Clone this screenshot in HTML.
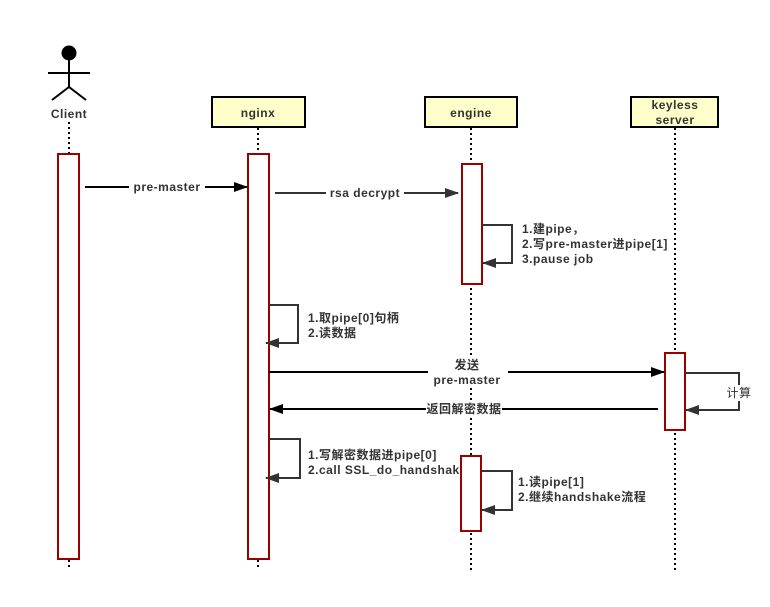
<!DOCTYPE html>
<html><head><meta charset="utf-8"><style>
body{margin:0;background:#fff}
svg text{font-family:"Liberation Sans","Noto Sans CJK SC",sans-serif;font-weight:bold;font-size:12px;fill:#333;letter-spacing:0.5px}
</style></head><body>
<svg width="770" height="602" viewBox="0 0 770 602" xmlns="http://www.w3.org/2000/svg">
<defs>
<marker id="a" markerWidth="14" markerHeight="10" refX="13" refY="5" orient="auto" markerUnits="userSpaceOnUse"><path d="M0,0 L14,5 L0,10 Z" fill="#000"/></marker>
<marker id="g" markerWidth="14" markerHeight="10" refX="13" refY="5" orient="auto" markerUnits="userSpaceOnUse"><path d="M0,0 L14,5 L0,10 Z" fill="#333"/></marker>
</defs>
<g stroke="#000" stroke-width="2" stroke-dasharray="2,3">
<line x1="69" y1="122" x2="69" y2="153"/><line x1="69" y1="560" x2="69" y2="570"/>
<line x1="258" y1="128" x2="258" y2="153"/><line x1="258" y1="560" x2="258" y2="570"/>
<line x1="471" y1="128" x2="471" y2="570"/>
<line x1="675" y1="128" x2="675" y2="570"/>
</g>
<circle cx="69" cy="53" r="7.5" fill="#000"/>
<g stroke="#000" stroke-width="2" fill="none">
<line x1="48" y1="73" x2="90" y2="73"/><line x1="69" y1="60" x2="69" y2="87"/>
<polyline points="52,100 69,87 86,100"/>
</g>
<text x="69" y="118" text-anchor="middle" font-size="13">Client</text>
<g fill="#ffffcc" stroke="#000" stroke-width="2">
<rect x="212" y="97" width="93" height="30"/>
<rect x="425" y="97" width="92" height="30"/>
<rect x="631" y="97" width="87" height="30"/>
</g>
<text x="258" y="117" text-anchor="middle" font-size="13">nginx</text>
<text x="471" y="117" text-anchor="middle" font-size="13">engine</text>
<text x="675" y="109" text-anchor="middle" font-size="13">keyless</text>
<text x="675" y="124" text-anchor="middle" font-size="13">server</text>
<g fill="#fff" stroke="#990000" stroke-width="2">
<rect x="58" y="154" width="21" height="405"/>
<rect x="248" y="154" width="21" height="405"/>
<rect x="462" y="164" width="20" height="120"/>
<rect x="665" y="353" width="20" height="77"/>
</g>
<line x1="85" y1="187" x2="247" y2="187" stroke="#000" stroke-width="2" marker-end="url(#a)"/>
<rect x="129" y="180" width="76" height="14" fill="#fff"/>
<text x="167" y="191" text-anchor="middle">pre-master</text>
<line x1="275" y1="193" x2="458" y2="193" stroke="#333" stroke-width="2" marker-end="url(#g)"/>
<rect x="326" y="186" width="78" height="14" fill="#fff"/>
<text x="365" y="197" text-anchor="middle">rsa decrypt</text>
<g fill="none" stroke="#333" stroke-width="2">
<polyline points="482,225 512,225 512,263 483,263" marker-end="url(#g)"/>
<polyline points="269,305 298,305 298,343 266,343" marker-end="url(#g)"/>
<polyline points="685,373 739,373 739,410 686,410" marker-end="url(#g)"/>
<polyline points="269,439 300,439 300,478 266,478" marker-end="url(#g)"/>
<polyline points="481,471 512,471 512,510 482,510" marker-end="url(#g)"/>
</g>
<text x="522" y="233">1.建pipe，</text>
<text x="522" y="248">2.写pre-master进pipe[1]</text>
<text x="522" y="263">3.pause job</text>
<text x="308" y="322">1.取pipe[0]句柄</text>
<text x="308" y="337">2.读数据</text>
<line x1="269" y1="372" x2="664" y2="372" stroke="#000" stroke-width="2" marker-end="url(#a)"/>
<rect x="428" y="358" width="80" height="30" fill="#fff"/>
<text x="467" y="369" text-anchor="middle">发送</text>
<text x="467" y="384" text-anchor="middle">pre-master</text>
<line x1="658" y1="409" x2="270" y2="409" stroke="#000" stroke-width="2" marker-end="url(#a)"/>
<rect x="426" y="402" width="76" height="14" fill="#fff"/>
<text x="464" y="413" text-anchor="middle">返回解密数据</text>
<rect x="725" y="385" width="28" height="16" fill="#fff"/>
<text x="739" y="397" text-anchor="middle" font-weight="normal" style="font-weight:normal">计算</text>
<text x="308" y="459">1.写解密数据进pipe[0]</text>
<text x="308" y="474">2.call SSL_do_handshak</text>
<rect x="461" y="456" width="20" height="75" fill="#fff" stroke="#990000" stroke-width="2"/>
<text x="518" y="486">1.读pipe[1]</text>
<text x="518" y="501">2.继续handshake流程</text>
</svg>
</body></html>
